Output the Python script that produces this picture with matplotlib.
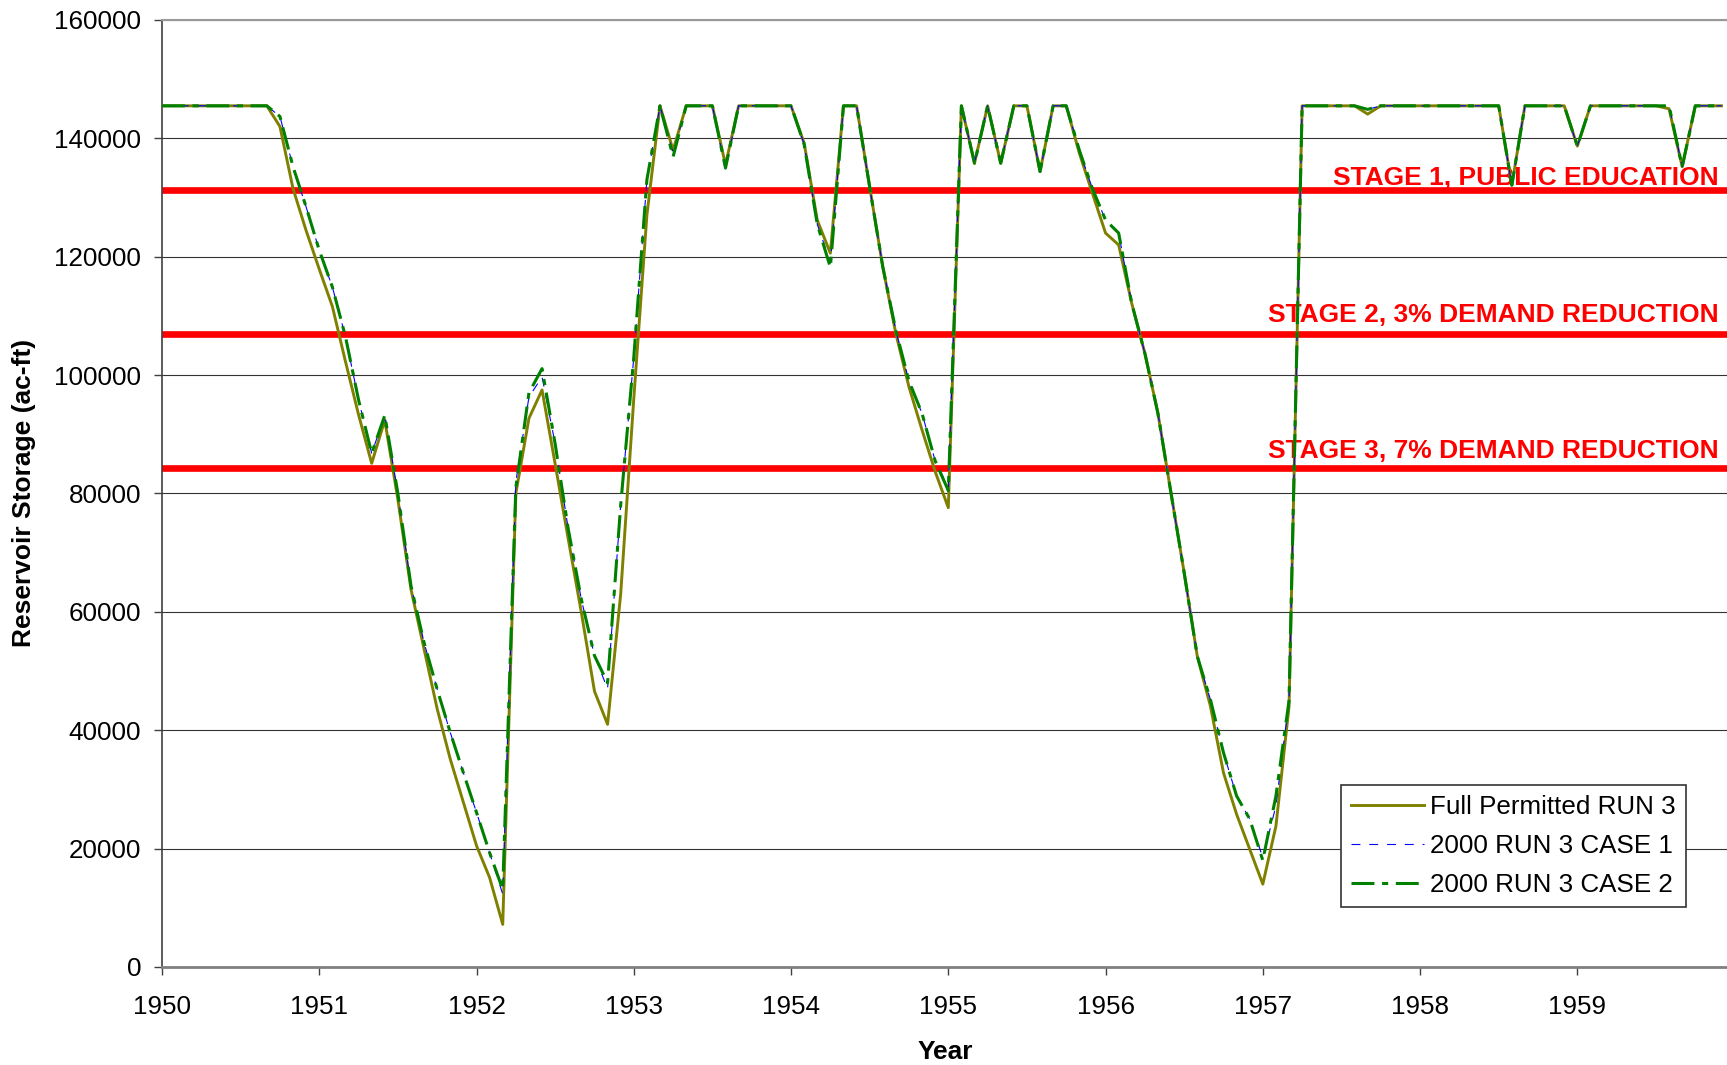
import matplotlib
matplotlib.use("Agg")
import matplotlib.pyplot as plt
import numpy as np

plt.rcParams['font.family'] = ['Liberation Sans', 'DejaVu Sans']

# monthly storage, Jan 1950 .. Dec 1959 (ac-ft)
full_run3 = [
    145500, 145500, 145500, 145500, 145500, 145500, 145500, 145500, 145500, 142000, 131500, 124400,  # 1950
    117900, 111600, 102300, 93300, 85100, 92400, 79000, 63800, 53700, 43600, 35100, 27800,  # 1951
    20500, 15100, 7200, 80000, 92700, 97500, 85000, 72300, 59900, 46600, 41000, 63000,  # 1952
    96000, 127000, 145500, 138000, 145500, 145500, 145500, 135500, 145500, 145500, 145500, 145500,  # 1953
    145500, 139200, 126200, 120600, 145500, 145500, 131800, 118300, 107000, 98000, 90700, 83700,  # 1954
    77600, 145500, 135800, 145500, 135800, 145500, 145500, 134400, 145500, 145500, 137500, 130700,  # 1955
    124000, 122000, 112100, 103700, 93500, 80000, 66600, 52500, 44100, 32800, 25800, 19900,  # 1956
    14000, 23800, 44000, 145500, 145500, 145500, 145500, 145500, 144100, 145500, 145500, 145500,  # 1957
    145500, 145500, 145500, 145500, 145500, 145500, 145500, 132100, 145500, 145500, 145500, 145500,  # 1958
    138700, 145500, 145500, 145500, 145500, 145500, 145500, 145000, 135200, 145500, 145500, 145500,  # 1959
]
case1 = [
    145500, 145500, 145500, 145500, 145500, 145500, 145500, 145500, 145500, 143700, 135200, 128400,
    121100, 114900, 106500, 95800, 86800, 93200, 80000, 64400, 54800, 46900, 39600, 32800,
    26100, 19300, 12300, 82000, 96300, 99700, 88400, 74000, 62100, 52600, 47000, 78000,
    103000, 133000, 145500, 137500, 145500, 145500, 145500, 134600, 145500, 145500, 145500, 145500,
    145500, 139000, 125500, 119000, 145500, 145500, 131800, 118300, 107500, 99000, 93500, 85500,
    81100, 145500, 135800, 145500, 135800, 145500, 145500, 134400, 145500, 145500, 138000, 131500,
    126200, 124000, 112100, 103700, 93500, 80000, 66600, 52500, 45200, 36200, 28900, 25000,
    18500, 27200, 45000, 145500, 145500, 145500, 145500, 145500, 144900, 145500, 145500, 145500,
    145500, 145500, 145500, 145500, 145500, 145500, 145500, 132100, 145500, 145500, 145500, 145500,
    138700, 145500, 145500, 145500, 145500, 145500, 145500, 145500, 135200, 145500, 145500, 145500,
]
case2 = [
    145500, 145500, 145500, 145500, 145500, 145500, 145500, 145500, 145500, 143700, 135200, 128400,
    121100, 114900, 106500, 95800, 86800, 93200, 80000, 64400, 54800, 46900, 39600, 32800,
    26100, 19300, 13100, 81000, 97000, 101100, 88400, 74000, 62100, 52600, 48000, 78000,
    103000, 133000, 145500, 136900, 145500, 145500, 145500, 135000, 145500, 145500, 145500, 145500,
    145500, 139000, 125500, 118200, 145500, 145500, 131800, 118300, 107500, 99000, 93500, 85500,
    80500, 145500, 135800, 145500, 135800, 145500, 145500, 134400, 145500, 145500, 138000, 131500,
    126200, 124000, 112100, 103700, 93500, 80000, 66600, 52500, 45200, 36200, 28900, 25000,
    18000, 28900, 45000, 145500, 145500, 145500, 145500, 145500, 144900, 145500, 145500, 145500,
    145500, 145500, 145500, 145500, 145500, 145500, 145500, 132100, 145500, 145500, 145500, 145500,
    138700, 145500, 145500, 145500, 145500, 145500, 145500, 145500, 135200, 145500, 145500, 145500,
]
years = 1950 + np.arange(len(full_run3)) / 12.0

# drought stage triggers
stage_levels = [131300, 107000, 84300]
stage_labels = ["STAGE 1, PUBLIC EDUCATION",
                "STAGE 2, 3% DEMAND REDUCTION",
                "STAGE 3, 7% DEMAND REDUCTION"]
stage_text_y = [132100, 109000, 85950]

year_ticks = list(range(1950, 1960))
storage_ticks = list(range(0, 160001, 20000))

W, H = 1727, 1065
fig = plt.figure(figsize=(W / 100, H / 100), dpi=100)
ax = fig.add_axes([162 / W, 98 / H, (W - 162) / W, 947 / H])

ax.set_xlim(1950, 1950 + (W - 162) / 157.26)
ax.set_ylim(0, 160000)

ax.yaxis.grid(True, color='#333333', lw=0.8, zorder=0)
ax.set_axisbelow(True)

#stage lines
for lev in stage_levels:
    ax.axhline(lev, color='#ff0000', lw=4.8, zorder=2)
for txt, ty in zip(stage_labels, stage_text_y):
    ax.text(1959.90, ty, txt, color='#ff0000', fontsize=19, fontweight='bold',
            ha='right', va='baseline', zorder=2)

ax.plot(years, full_run3, color='#808000', lw=2.1, label='Full Permitted RUN 3', zorder=3)
ax.plot(years, case1, color='#0000ff', lw=0.8, linestyle=(0, (8, 8)),
        label='2000 RUN 3 CASE 1', zorder=4)
ax.plot(years, case2, color='#008000', lw=2.2, linestyle=(0, (7.5, 2.5, 2, 2.5)),
        label='2000 RUN 3 CASE 2', zorder=5)

ax.set_xticks(year_ticks)
ax.set_xticklabels([str(y) for y in year_ticks])
ax.set_yticks(storage_ticks)
ax.set_yticklabels([str(v) for v in storage_ticks])
ax.tick_params(axis='y', labelsize=18.7, length=6, width=1, pad=9, color='#404040')
ax.tick_params(axis='x', labelsize=18.7, length=6, width=1, pad=14, color='#404040')

ax.spines['right'].set_visible(False)
ax.spines['top'].set_color('#999999')
ax.spines['top'].set_linewidth(1.5)
ax.spines['left'].set_color('#404040')
ax.spines['left'].set_linewidth(1.2)
ax.spines['bottom'].set_color('#808080')
ax.spines['bottom'].set_linewidth(2)

fig.text(24 / W, 1 - 493 / H, 'Reservoir Storage (ac-ft)', rotation=90,
         fontsize=19, fontweight='bold', ha='center', va='center')
fig.text(945 / W, 1 - 1052 / H, 'Year', fontsize=19, fontweight='bold',
         ha='center', va='center')

leg = ax.legend(loc='lower left', bbox_to_anchor=(1341 / W, 1 - 907 / H),
                bbox_transform=fig.transFigure, borderaxespad=0,
                fontsize=18.7, handlelength=2.8, handletextpad=0.25,
                labelspacing=0.58, borderpad=0.38, fancybox=False,
                framealpha=1, edgecolor='#333333')
leg.get_frame().set_linewidth(1.2)

fig.savefig('out.png', dpi=100)
